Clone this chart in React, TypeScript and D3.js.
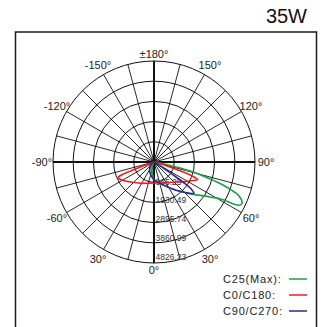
import React from "react";
import * as d3 from "d3";

// ---- data ----
const ringValues = [965.25, 1930.49, 2895.74, 3860.99, 4826.23];
const ringLabels = ["965.25", "1930.49", "2895.74", "3860.99", "4826.23"];
const maxValue = 4826.23;

const angleTicks = [180, -150, 150, -120, 120, -90, 90, -60, 60, -30, 30, 0];
const angleTickLabels = ["±180°", "-150°", "150°", "-120°", "120°", "-90°", "90°", "-60°", "60°", "30°", "30°", "0°"];

// C25 (Max) — right half (C25) and left half (C205)
const c25Gamma = [0, 10, 20, 30, 40, 45, 50, 55, 58, 61, 63, 64.5, 66, 68, 69, 72, 74, 76, 78, 80, 85];
const c25Values = [850, 950, 1150, 1400, 1800, 2050, 2400, 2800, 3150, 3650, 4550, 4650, 4600, 4400, 4230, 3320, 2500, 1750, 800, 200, 0];
const c205Gamma = [10, 20, 30, 40];
const c205Values = [500, 250, 80, 0];

// C0 / C180
const c0Gamma = [0, 15, 30, 45, 55, 60, 65, 68, 70, 72, 75, 80];
const c0Values = [1000, 1050, 1150, 1350, 1650, 1850, 2100, 2250, 1900, 900, 150, 0];
const c180Gamma = [15, 30, 45, 55, 60, 65, 67, 68, 70, 72, 75];
const c180Values = [1050, 1180, 1380, 1600, 1750, 1850, 1860, 1750, 600, 100, 0];

// C90 / C270
const c90Gamma = [0, 10, 20, 30, 40, 45, 50, 52, 54, 55, 56, 58, 60, 65];
const c90Values = [850, 950, 1150, 1400, 1800, 2050, 2350, 2420, 2200, 1900, 1100, 300, 50, 0];
const c270Gamma = [10, 20, 30, 40, 50, 60, 70, 80];
const c270Values = [700, 550, 420, 300, 200, 120, 50, 0];

const seriesNames = ["C25(Max):", "C0/C180:", "C90/C270:"];
const seriesColors = ["#1f9e4a", "#ec1c24", "#2b2a8f"];

// ---- layout ----
const W = 324;
const H = 327;
const cx = 154;
const cy = 162;
const R = 101;
const FONT = "'Liberation Sans', Arial, Helvetica, sans-serif";

const rScale = d3.scaleLinear().domain([0, maxValue]).range([0, R]);
const labelScale = d3.scaleLinear().domain([0, maxValue]).range([0.7, R * 0.94]);

type P = { g: number; v: number };

function buildPoints(rg: number[], rv: number[], lg: number[], lv: number[]): P[] {
  const pts: P[] = [];
  rg.forEach((g, i) => pts.push({ g, v: rv[i] }));
  const left: P[] = lg.map((g, i) => ({ g: -g, v: lv[i] }));
  left.reverse();
  // avoid duplicate center point
  const filtered = left.filter((p, i) => !(p.v === 0 && i === 0 && pts[pts.length - 1].v === 0));
  return pts.concat(filtered);
}

const radial = d3
  .lineRadial<P>()
  .angle((d) => ((180 - d.g) * Math.PI) / 180)
  .radius((d) => rScale(d.v))
  .curve(d3.curveCatmullRomClosed.alpha(0.5));

const curves = [
  buildPoints(c25Gamma, c25Values, c205Gamma, c205Values),
  buildPoints(c0Gamma, c0Values, c180Gamma, c180Values),
  buildPoints(c90Gamma, c90Values, c270Gamma, c270Values),
];

const spokes = d3.range(0, 360, 15);

function pos(deg: number, r: number) {
  const a = (deg * Math.PI) / 180;
  return [cx + r * Math.sin(a), cy + r * Math.cos(a)];
}

export default function App() {
  return (
    <svg
      width={W}
      height={H}
      style={{ position: "absolute", left: 0, top: 0, background: "#fff" }}
      fontFamily={FONT}
    >
      <rect x={0} y={0} width={W} height={H} fill="#fff" />
      <text x={307} y={23} textAnchor="end" fontSize={20} fill="#111">
        35W
      </text>
      <rect x={15.5} y={32} width={301} height={400} fill="none" stroke="#1a1a1a" strokeWidth={1.5} />

      {/* grid */}
      <g stroke="#111" fill="none">
        {ringValues.map((v, i) => (
          <circle key={i} cx={cx} cy={cy} r={rScale(v)} strokeWidth={1} />
        ))}
        {spokes.map((s) => {
          const [x2, y2] = pos(s, R);
          const major = s % 90 === 0;
          return <line key={s} x1={cx} y1={cy} x2={x2} y2={y2} strokeWidth={major ? 2 : 0.9} />;
        })}
      </g>

      {/* angle labels */}
      <g fontSize={11} fill="#222">
        {angleTicks.map((a, i) => {
          const rl = a === 0 || a === 180 ? 108 : 112;
          const [x, y] = pos(a, rl);
          return (
            <text key={i} x={x} y={y} textAnchor="middle" dominantBaseline="central">
              {angleTickLabels[i]}
            </text>
          );
        })}
      </g>

      {/* ring labels */}
      <g fontSize={8.5} fill="#333">
        {ringValues.map((v, i) => (
          <text key={i} x={cx + 1.5} y={cy + labelScale(v)} dominantBaseline="central">
            {ringLabels[i]}
          </text>
        ))}
      </g>

      {/* curves */}
      <g transform={`translate(${cx},${cy})`} fill="none" strokeWidth={1.6}>
        {curves.map((pts, i) => (
          <path key={i} d={radial(pts) || ""} stroke={seriesColors[i]} />
        ))}
      </g>

      {/* legend */}
      <g fontSize={11} fill="#222">
        {seriesNames.map((n, i) => {
          const y = 278.5 + i * 16;
          return (
            <g key={i}>
              <text x={223} y={y} dominantBaseline="central" letterSpacing={0.8}>
                {n}
              </text>
              <line x1={289} x2={307} y1={y + 0.5} y2={y + 0.5} stroke={seriesColors[i]} strokeWidth={1.5} />
            </g>
          );
        })}
      </g>
    </svg>
  );
}
